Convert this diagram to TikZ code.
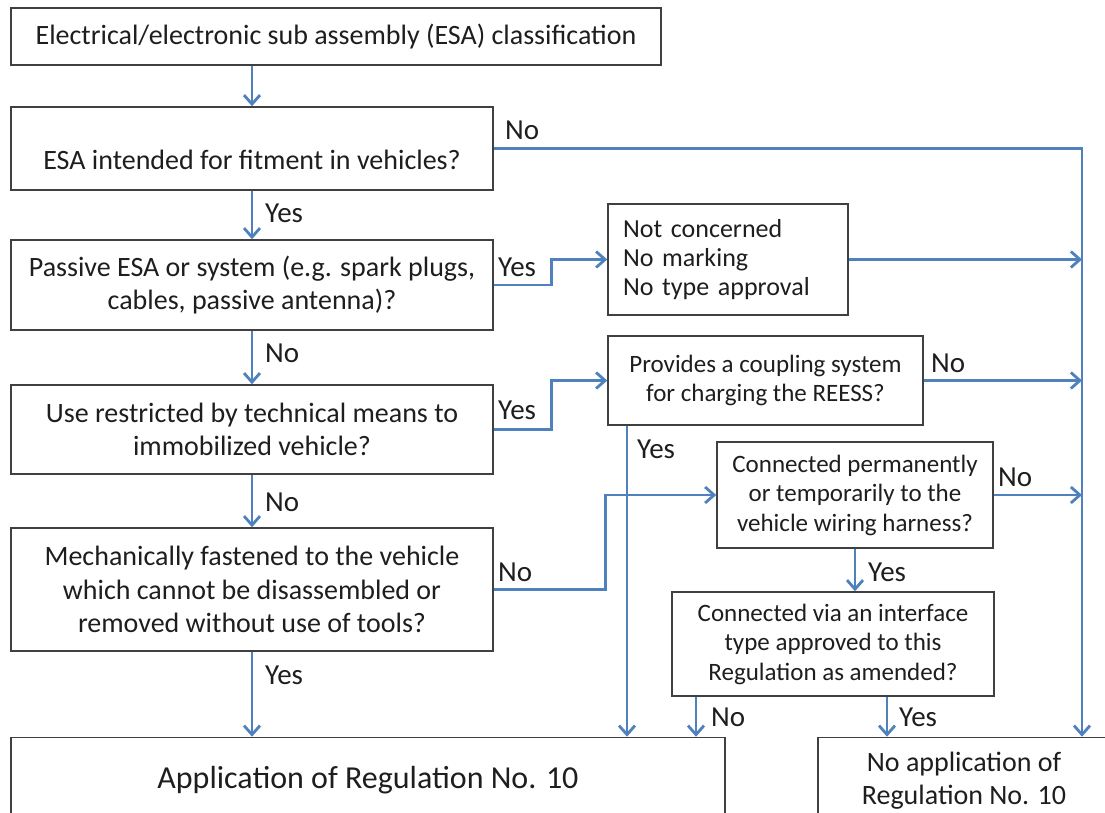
\documentclass[tikz,border=0pt]{standalone}
\usepackage{fontspec}
\setmainfont{Carlito}
\usetikzlibrary{arrows.meta,calc}
\definecolor{bl}{RGB}{79,129,189}
\definecolor{boxc}{RGB}{64,64,64}
\definecolor{txt}{RGB}{30,30,30}
\newcommand{\lowr}[1]{\raisebox{-5pt}[\height][\depth]{#1}}
\tikzset{
  box/.style={draw=boxc, line width=1.6pt, rectangle, inner sep=0pt, align=center, text=txt},
  bigf/.style={font=\fontsize{28}{33.5}\selectfont},
  smallf/.style={font=\fontsize{25}{29.5}\selectfont},
  conn/.style={draw=bl, line width=2.8pt},
  arr/.style={conn, -{Straight Barb[length=9pt,width=16pt]}},
  lab/.style={anchor=west, inner sep=0pt, font=\fontsize{29}{34}\selectfont, text=txt},
}
\begin{document}
\begin{tikzpicture}[x=1pt,y=-1pt]
\useasboundingbox (0,0) rectangle (1105,812);
\clip (0,0) rectangle (1105,812);
\fill[white] (0,0) rectangle (1105,812);
% boxes
\node[box,bigf,minimum width=650pt,minimum height=57pt] (b1) at (336,36.5) {Electrical/electronic sub assembly (ESA) classification};
\node[box,bigf,minimum width=482pt,minimum height=83pt,text height=46pt,text depth=4pt] (b2) at (252,148.5) {ESA intended for fitment in vehicles?};
\node[box,bigf,minimum width=482pt,minimum height=90pt] (b3) at (252,285) {Passive ESA or system (e.g. spark plugs,\\cables, passive antenna)?};
\node[box,bigf,minimum width=482pt,minimum height=89pt] (b4) at (252,429.5) {Use restricted by technical means to\\immobilized vehicle?};
\node[box,bigf,minimum width=482pt,minimum height=123pt] (b5) at (252,589.5) {Mechanically fastened to the vehicle\\which cannot be disassembled or\\removed without use of tools?};
\node[box,font=\fontsize{26}{29}\selectfont,align=left,text width=210pt,inner xsep=15pt,minimum width=240pt,minimum height=111pt] (nc) at (728,259.5) {Not concerned\\No marking\\No type approval};
\node[box,smallf,minimum width=315pt,minimum height=89pt] (cp) at (765.5,380.5) {Provides a coupling system\\for charging the REESS?};
\node[box,smallf,minimum width=276pt,minimum height=106pt] (w1) at (855,495) {Connected permanently\\or temporarily to the\\vehicle wiring harness?};
\node[box,smallf,minimum width=322pt,minimum height=104pt] (w2) at (833,644) {Connected via an interface\\type approved to this\\Regulation as amended?};
\node[box,font=\fontsize{32}{38}\selectfont,minimum width=714pt,minimum height=76pt] (ap) at (368,775.5) {\lowr{Application of Regulation No. 10}};
\node[box,font=\fontsize{28}{33}\selectfont,minimum width=292pt,minimum height=76pt] (na) at (964,775.5) {\lowr{No application of}\\\lowr{Regulation No. 10}};
% helper coordinates
\coordinate (rx) at (1082,0);
\coordinate (cx) at (627,0);
\coordinate (vnx) at (696,0);
\coordinate (vyx) at (887,0);
% connectors
\draw[arr] (b1.south -| b2.north) -- (b2.north);
\draw[arr] (b2.east) -- (b2.east -| rx) -- (na.north -| rx);
\draw[arr] (b2.south) -- (b3.north);
\draw[arr] (b3.east) -- ++(58,0) |- (nc.west);
\draw[arr] (nc.east) -- (nc.east -| rx);
\draw[arr] (b3.south) -- (b4.north);
\draw[arr] (b4.east) -- ++(58,0) |- (cp.west);
\draw[arr] (cp.east) -- (cp.east -| rx);
\draw[arr] (cp.south -| cx) -- (ap.north -| cx);
\draw[arr] (b4.south) -- (b5.north);
\draw[arr] (b5.east) -- ++(112,0) |- (w1.west);
\draw[arr] (w1.east) -- (w1.east -| rx);
\draw[arr] (w1.south) -- (w2.north -| w1.south);
\draw[arr] (w2.south -| vnx) -- (ap.north -| vnx);
\draw[arr] (w2.south -| vyx) -- (na.north -| vyx);
\draw[arr] (b5.south) -- (ap.north -| b5.south);
% labels
\node[lab] (l1) at (505,130) {No};
\node[lab] (l2) at (265,213) {Yes};
\node[lab] (l3) at (498,267) {Yes};
\node[lab] (l4) at (265,353) {No};
\node[lab] (l5) at (498,410) {Yes};
\node[lab] (l6) at (931,363) {No};
\node[lab] (l7) at (637,449) {Yes};
\node[lab] (l8) at (265,502) {No};
\node[lab] (l9) at (998,477) {No};
\node[lab] (l10) at (498,572) {No};
\node[lab] (l11) at (868,572) {Yes};
\node[lab] (l12) at (265,675) {Yes};
\node[lab] (l13) at (711,717) {No};
\node[lab] (l14) at (899,717) {Yes};
\end{tikzpicture}
\end{document}
